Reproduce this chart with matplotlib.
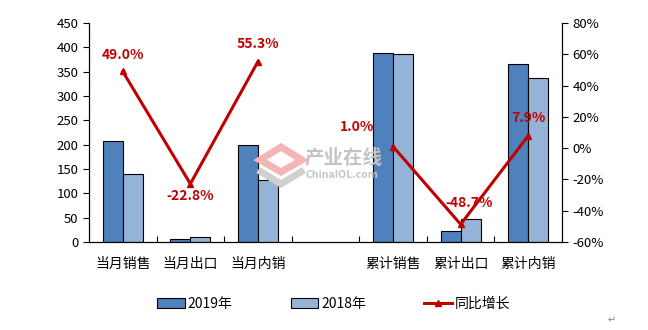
import numpy as np
import matplotlib.pyplot as plt
from matplotlib.patches import Polygon

plt.rcParams['font.family'] = ['Noto Sans CJK SC', 'DejaVu Sans']

# 数据
categories = ['当月销售', '当月出口', '当月内销', '', '累计销售', '累计出口', '累计内销']
sales_2019 = [207.5, 7, 198.7, np.nan, 388, 22, 365]
sales_2018 = [139.7, 10, 126.8, np.nan, 386, 46.6, 338]
yoy = [49.0, -22.8, 55.3, np.nan, 1.0, -48.7, 7.9]
yoy_labels = ['49.0%', '-22.8%', '55.3%', '', '1.0%', '-48.7%', '7.9%']

c19 = '#4F81BD'
c18 = '#95B3D7'
red = '#C00000'

fig = plt.figure(figsize=(6.48, 3.3), dpi=100)
W, H = 648, 330


def fp(px, py):
    return (px / W, 1 - py / H)


# 水印 logo (画在底层)
fig.patches.append(Polygon([fp(260, 160), fp(281, 147), fp(302, 160), fp(281, 172)],
                           closed=True, fill=False, edgecolor='#f3b5b5', linewidth=5,
                           transform=fig.transFigure, zorder=0))
fig.patches.append(Polygon([fp(258, 170), fp(281, 184), fp(304, 170)],
                           closed=False, fill=False, edgecolor='#cfcfcf', linewidth=5,
                           transform=fig.transFigure, zorder=0))
fig.text(305 / W, 1 - 158 / H, '产业在线', ha='left', va='center', fontsize=14,
         fontweight='bold', color='#c4c4c4', zorder=0)
fig.text(305 / W, 1 - 175 / H, 'ChinaIOL.com', ha='left', va='center', fontsize=7.5,
         fontweight='bold', color='#c4c4c4', zorder=0)

ax = fig.add_axes([0.1373, 0.2667, 0.7300, 0.6636])
ax.patch.set_alpha(0)
x = np.arange(len(categories))
w = 0.295

b1 = ax.bar(x - w / 2, sales_2019, w, color=c19, edgecolor='black', linewidth=0.8, label='2019年')
b2 = ax.bar(x + w / 2, sales_2018, w, color=c18, edgecolor='black', linewidth=0.8, label='2018年')

ax.set_xlim(-0.5, len(categories) - 0.5)
ax.set_ylim(0, 450)
ax.set_yticks(np.arange(0, 451, 50))
ax.set_xticks(np.arange(0.5, len(categories) - 1, 1))
ax.set_xticklabels([])
ax.set_xticks(x, minor=True)
ax.set_xticklabels(categories, minor=True, fontsize=10)
ax.tick_params(axis='x', which='major', direction='in', length=4)
ax.tick_params(axis='x', which='minor', length=0, pad=11)
ax.tick_params(axis='y', direction='out', length=4, labelsize=9.5)
ax.spines['top'].set_visible(False)

ax2 = ax.twinx()
ln, = ax2.plot(x, yoy, color=red, linewidth=2.2, marker='^', markersize=5, label='同比增长')
ax2.set_ylim(-60, 80)
ax2.set_yticks(np.arange(-60, 81, 20))
ax2.set_yticklabels([f'{v}%' for v in range(-60, 81, 20)])
ax2.tick_params(axis='y', direction='out', length=4, labelsize=9.5)
ax2.spines['top'].set_visible(False)

# 数据标签偏移 (points)
offsets = [(0, 12), (0, -9), (0, 13), (0, 0), (-26, 14), (6, 15), (0, 13)]
for xi, v, t, off in zip(x, yoy, yoy_labels, offsets):
    if t:
        ax2.annotate(t, (xi, v), xytext=off, textcoords='offset points',
                     ha='center', va='center', color=red, fontsize=10, fontweight='bold')

fig.legend([b1, b2, ln], ['2019年', '2018年', '同比增长'], loc='center', ncol=3,
           bbox_to_anchor=(0.515, 0.079), frameon=False, fontsize=10,
           handlelength=2.0, columnspacing=4.2, handletextpad=0.2)

fig.text(612 / W, 1 - 320 / H, '↵', ha='center', va='center', fontsize=7, color='#888888')

fig.savefig('out.png', dpi=100)
